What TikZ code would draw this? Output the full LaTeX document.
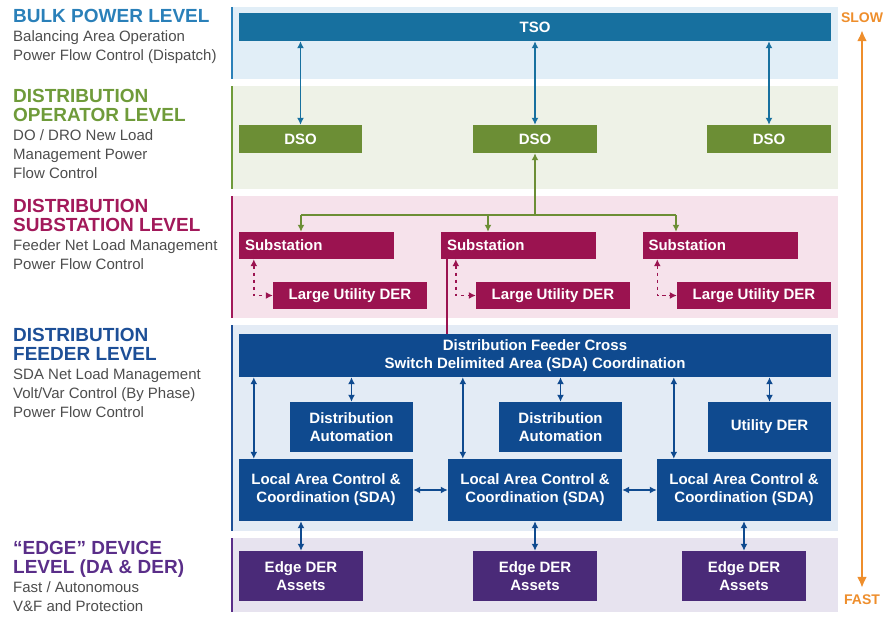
\documentclass[tikz,border=0pt]{standalone}
\usepackage{fontspec}
\setmainfont{Liberation Sans}
\usetikzlibrary{arrows.meta,calc}

\definecolor{bulkC}{HTML}{17709F}
\definecolor{bulkBg}{HTML}{E1EEF7}
\definecolor{bulkT}{HTML}{2A80B9}
\definecolor{opC}{HTML}{6C8E35}
\definecolor{opBg}{HTML}{EEF2E7}
\definecolor{opT}{HTML}{6F9B3A}
\definecolor{subC}{HTML}{9B1350}
\definecolor{subBg}{HTML}{F6E2EB}
\definecolor{subT}{HTML}{A2195A}
\definecolor{fdC}{HTML}{0F4A8F}
\definecolor{fdBg}{HTML}{E3EBF5}
\definecolor{fdT}{HTML}{1D4F97}
\definecolor{edC}{HTML}{4A2A78}
\definecolor{edBg}{HTML}{E7E3EF}
\definecolor{edT}{HTML}{5A2E89}
\definecolor{speedC}{HTML}{EE8E2C}
\definecolor{noteC}{HTML}{4D4D4D}

\tikzset{
	box/.style={rectangle, inner sep=0pt, text=white, align=center,
		font=\fontsize{15}{18}\selectfont\bfseries},
	lvl/.style={anchor=base west, inner sep=0pt, align=left,
		font=\fontsize{19}{19}\selectfont\bfseries},
	note/.style={anchor=base west, inner sep=0pt, align=left, text=noteC,
		font=\fontsize{15}{19}\selectfont},
	link/.style={line width=1.6pt, {Latex[length=7pt,width=7pt]}-{Latex[length=7pt,width=7pt]}},
	down/.style={line width=1.6pt, -{Latex[length=7pt,width=7pt]}},
	dlink/.style={line width=1.5pt, dash pattern=on 3.5pt off 3.5pt,
		{Latex[length=7pt,width=7pt]}-{Latex[length=7pt,width=7pt]}},
}

\begin{document}
\begin{tikzpicture}[x=1pt,y=-1pt]
	\path [use as bounding box] (0,0) rectangle (894,618);

	% bands
	\fill[bulkBg] (233,7) rectangle (838,79);
	\fill[opBg] (233,86) rectangle (838,189);
	\fill[subBg] (233,196) rectangle (838,318);
	\fill[fdBg] (233,325) rectangle (838,531);
	\fill[edBg] (233,538) rectangle (838,612);
	\draw[bulkT, line width=2pt] (232,7) -- (232,79);
	\draw[opT, line width=2pt] (232,86) -- (232,189);
	\draw[subT, line width=2pt] (232,196) -- (232,318);
	\draw[fdT, line width=2pt] (232,325) -- (232,531);
	\draw[edT, line width=2pt] (232,538) -- (232,612);

	% level labels (anchored on their last line)
	\node[lvl, text=bulkT] (bulkTitle) at (13,22.5) {BULK POWER LEVEL};
	\node[note] (bulkNote) at (13,61) {Balancing Area Operation\\Power Flow Control (Dispatch)};
	\node[lvl, text=opT] (opTitle) at (13,121.5) {DISTRIBUTION\\OPERATOR LEVEL};
	\node[note] (opNote) at (13,178) {DO / DRO New Load\\Management Power\\Flow Control};
	\node[lvl, text=subT] (subTitle) at (13,231.5) {DISTRIBUTION\\SUBSTATION LEVEL};
	\node[note] (subNote) at (13,269) {Feeder Net Load Management\\Power Flow Control};
	\node[lvl, text=fdT] (fdTitle) at (13,360.5) {DISTRIBUTION\\FEEDER LEVEL};
	\node[note] (fdNote) at (13,417) {SDA Net Load Management\\Volt/Var Control (By Phase)\\Power Flow Control};
	\node[lvl, text=edT] (edTitle) at (13,573.5) {“EDGE” DEVICE\\LEVEL (DA \& DER)};
	\node[note] (edNote) at (13,611) {Fast / Autonomous\\V\&F and Protection};

	% bulk and operator
	\node[box, fill=bulkC, minimum width=592, minimum height=28] (tso) at (535,27) {TSO};
	\node[box, fill=opC, minimum width=123, minimum height=28] (dso1) at (300.5,139) {DSO};
	\node[box, fill=opC, minimum width=124, minimum height=28] (dso2) at (535,139) {DSO};
	\node[box, fill=opC, minimum width=124, minimum height=28] (dso3) at (769,139) {DSO};
	\foreach \d in {dso1,dso2,dso3}
		\draw[link, bulkC] (\d.north) -- (\d.north |- tso.south);

	% substations
	\node[box, fill=subC, minimum width=155, minimum height=27, text width=143, align=left] (sub1) at (316.5,245.5) {Substation};
	\node[box, fill=subC, minimum width=155, minimum height=27, text width=143, align=left] (sub2) at (518.5,245.5) {Substation};
	\node[box, fill=subC, minimum width=155, minimum height=27, text width=143, align=left] (sub3) at (720,245.5) {Substation};
	\node[box, fill=subC, minimum width=154, minimum height=27] (luder1) at (350,295.5) {Large Utility DER};
	\node[box, fill=subC, minimum width=154, minimum height=27] (luder2) at (553,295.5) {Large Utility DER};
	\node[box, fill=subC, minimum width=154, minimum height=27] (luder3) at (754,295.5) {Large Utility DER};
	\foreach \i in {1,2,3}
		\draw[dlink, subC] ($(sub\i.south west)+(15,0)$) |- (luder\i.west);

	\coordinate (gbus) at (535,215);
	\coordinate (g1) at (301,215);
	\coordinate (g2) at (488,215);
	\coordinate (g3) at (676,215);
	\draw[opC, line width=1.6pt] (g1) -- (g3);
	\draw[down, opC] (gbus) -- (dso2.south);
	\draw[down, opC] (g1) -- (g1 |- sub1.north);
	\draw[down, opC] (g2) -- (g2 |- sub2.north);
	\draw[down, opC] (g3) -- (g3 |- sub3.north);

	% feeder
	\node[box, fill=fdC, minimum width=592, minimum height=43] (cross) at (535,355.5) {Distribution Feeder Cross\\Switch Delimited Area (SDA) Coordination};
	\coordinate (mline) at (447,259);
	\draw[subC, line width=1.6pt] (mline) -- (mline |- cross.north);
	\node[box, fill=fdC, minimum width=123, minimum height=50] (da1) at (351.5,427) {Distribution\\Automation};
	\node[box, fill=fdC, minimum width=123, minimum height=50] (da2) at (560.5,427) {Distribution\\Automation};
	\node[box, fill=fdC, minimum width=123, minimum height=50] (uder) at (769.5,427) {Utility DER};
	\node[box, fill=fdC, minimum width=174, minimum height=62] (loc1) at (326,490) {Local Area Control \&\\Coordination (SDA)};
	\node[box, fill=fdC, minimum width=174, minimum height=62] (loc2) at (535,490) {Local Area Control \&\\Coordination (SDA)};
	\node[box, fill=fdC, minimum width=174, minimum height=62] (loc3) at (744,490) {Local Area Control \&\\Coordination (SDA)};
	\foreach \d in {da1,da2,uder}
		\draw[link, fdC] (\d.north) -- (\d.north |- cross.south);
	\coordinate (l1) at ($(loc1.north west)+(15,0)$);
	\coordinate (l2) at ($(loc2.north west)+(15,0)$);
	\coordinate (l3) at ($(loc3.north west)+(17,0)$);
	\foreach \l in {l1,l2,l3}
		\draw[link, fdC] (\l) -- (\l |- cross.south);
	\draw[link, fdC] (loc1.east) -- (loc2.west);
	\draw[link, fdC] (loc2.east) -- (loc3.west);

	% edge
	\node[box, fill=edC, minimum width=124, minimum height=50] (edge1) at (301,576) {Edge DER\\Assets};
	\node[box, fill=edC, minimum width=124, minimum height=50] (edge2) at (535,576) {Edge DER\\Assets};
	\node[box, fill=edC, minimum width=124, minimum height=50] (edge3) at (744,576) {Edge DER\\Assets};
	\draw[link, fdC] (edge1.north) -- (edge1.north |- loc1.south);
	\draw[link, fdC] (edge2.north) -- (edge2.north |- loc2.south);
	\draw[link, fdC] (edge3.north) -- (edge3.north |- loc3.south);

	% speed
	\node[text=speedC, font=\fontsize{14}{14}\selectfont\bfseries, inner sep=2pt] (slow) at (862,18) {SLOW};
	\node[text=speedC, font=\fontsize{14}{14}\selectfont\bfseries, inner sep=2pt] (fast) at (862,600) {FAST};
	\draw[speedC, line width=2.5pt, {Latex[length=11pt,width=10pt]}-{Latex[length=11pt,width=10pt]}, shorten <=5pt, shorten >=5pt] (slow) -- (fast);
\end{tikzpicture}
\end{document}
